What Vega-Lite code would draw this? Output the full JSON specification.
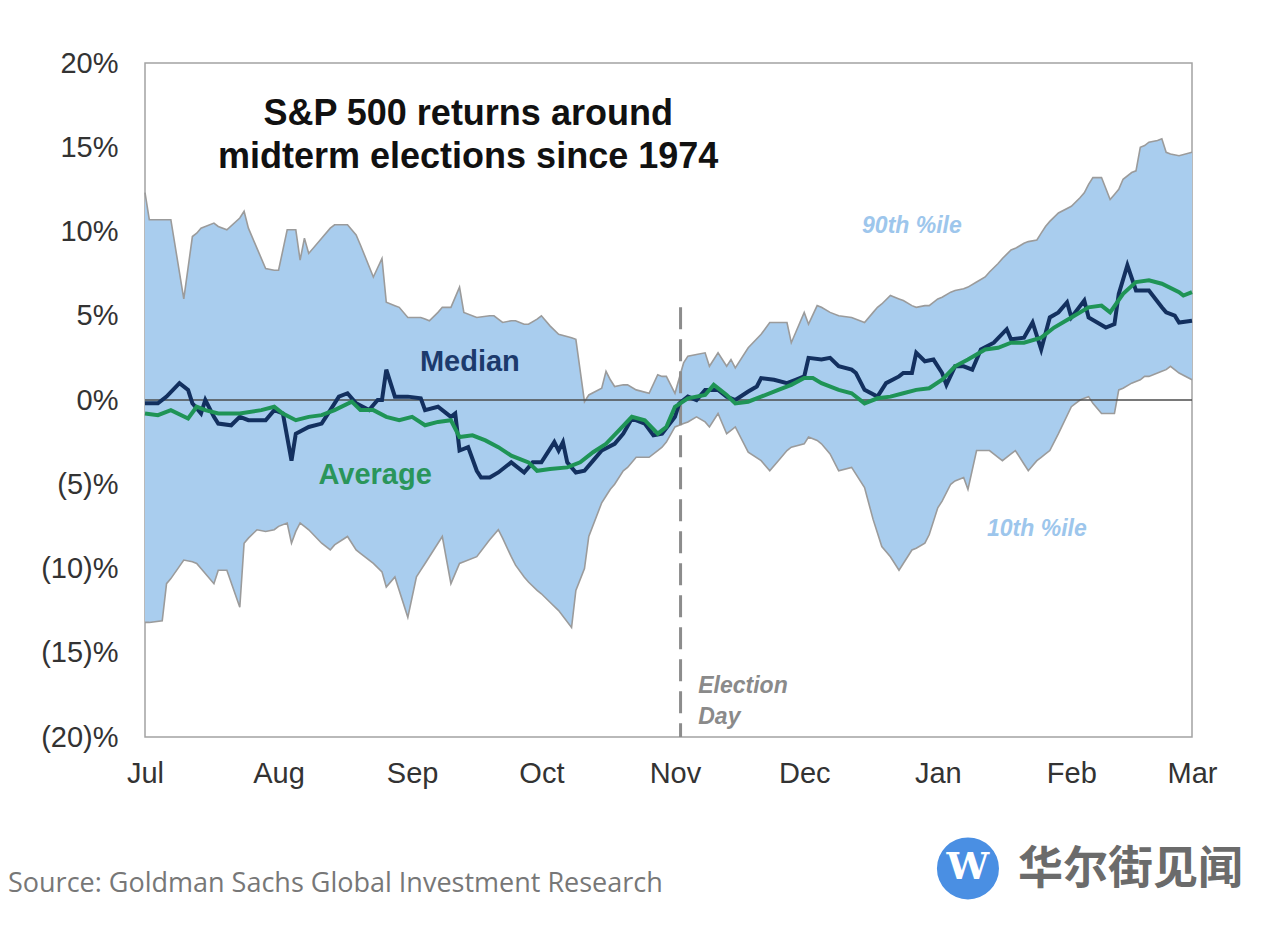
{
  "$schema": "https://vega.github.io/schema/vega-lite/v6.json",
  "description": "S&P 500 returns around midterm elections since 1974: 10th-90th percentile band, median and average path from July to March.",
  "autosize": {"type": "none"},
  "width": 1047,
  "height": 674,
  "padding": {"left": 145, "top": 63, "right": 88, "bottom": 204},
  "background": "white",
  "config": {
    "view": {"stroke": "#a3a3a3", "strokeWidth": 1.5},
    "font": "Liberation Sans"
  },
  "datasets": {
    "band": [
      {"d": 0, "hi": 12.3, "lo": -13.2}, {"d": 1, "hi": 10.7, "lo": -13.2}, {"d": 4, "hi": 10.7, "lo": -13.1},
      {"d": 5, "hi": 10.7, "lo": -10.9}, {"d": 6, "hi": 10.7, "lo": -10.6}, {"d": 9, "hi": 6.0, "lo": -9.5},
      {"d": 11, "hi": 9.7, "lo": -9.6}, {"d": 12, "hi": 9.9, "lo": -9.7}, {"d": 13, "hi": 10.2, "lo": -10.0},
      {"d": 16, "hi": 10.5, "lo": -10.9}, {"d": 17, "hi": 10.3, "lo": -10.1}, {"d": 19, "hi": 10.1, "lo": -10.1},
      {"d": 22, "hi": 10.8, "lo": -12.3}, {"d": 23, "hi": 11.2, "lo": -8.5}, {"d": 24, "hi": 10.2, "lo": -8.2},
      {"d": 26, "hi": 9.0, "lo": -7.7}, {"d": 28, "hi": 7.8, "lo": -7.8}, {"d": 30, "hi": 7.7, "lo": -7.7},
      {"d": 31, "hi": 7.7, "lo": -7.5}, {"d": 33, "hi": 10.1, "lo": -7.3}, {"d": 34, "hi": 10.1, "lo": -8.5},
      {"d": 35, "hi": 10.1, "lo": -7.8}, {"d": 36, "hi": 8.3, "lo": -7.3}, {"d": 37, "hi": 9.6, "lo": -7.5},
      {"d": 38, "hi": 8.7, "lo": -7.7}, {"d": 41, "hi": 9.6, "lo": -8.5}, {"d": 43, "hi": 10.2, "lo": -8.9},
      {"d": 44, "hi": 10.4, "lo": -8.6}, {"d": 47, "hi": 10.4, "lo": -8.1}, {"d": 49, "hi": 9.8, "lo": -8.9},
      {"d": 50, "hi": 9.2, "lo": -9.1}, {"d": 53, "hi": 7.3, "lo": -9.7}, {"d": 55, "hi": 8.4, "lo": -10.2},
      {"d": 56, "hi": 5.8, "lo": -11.1}, {"d": 58, "hi": 5.6, "lo": -10.5}, {"d": 59, "hi": 5.5, "lo": -11.3},
      {"d": 61, "hi": 4.9, "lo": -12.9}, {"d": 63, "hi": 4.9, "lo": -10.5}, {"d": 64, "hi": 4.9, "lo": -10.1},
      {"d": 65, "hi": 4.8, "lo": -9.7}, {"d": 66, "hi": 4.7, "lo": -9.3}, {"d": 68, "hi": 5.2, "lo": -8.5},
      {"d": 69, "hi": 5.5, "lo": -8.1}, {"d": 71, "hi": 5.5, "lo": -10.9}, {"d": 73, "hi": 6.7, "lo": -9.7},
      {"d": 74, "hi": 5.2, "lo": -9.6}, {"d": 77, "hi": 4.9, "lo": -9.3}, {"d": 80, "hi": 5.0, "lo": -8.3},
      {"d": 81, "hi": 5.0, "lo": -8.0}, {"d": 82, "hi": 4.8, "lo": -7.7}, {"d": 83, "hi": 4.6, "lo": -8.2},
      {"d": 85, "hi": 4.7, "lo": -9.3}, {"d": 86, "hi": 4.7, "lo": -9.8}, {"d": 88, "hi": 4.5, "lo": -10.5},
      {"d": 89, "hi": 4.5, "lo": -10.8}, {"d": 91, "hi": 4.8, "lo": -11.3}, {"d": 92, "hi": 5.0, "lo": -11.5},
      {"d": 94, "hi": 4.4, "lo": -12.0}, {"d": 96, "hi": 3.9, "lo": -12.5}, {"d": 99, "hi": 3.7, "lo": -13.5},
      {"d": 100, "hi": 3.6, "lo": -11.3}, {"d": 102, "hi": -0.1, "lo": -10.0}, {"d": 103, "hi": 0.3, "lo": -8.1},
      {"d": 106, "hi": 0.7, "lo": -6.1}, {"d": 107, "hi": 1.7, "lo": -5.7}, {"d": 108, "hi": 1.2, "lo": -5.3},
      {"d": 109, "hi": 0.8, "lo": -5.0}, {"d": 111, "hi": 0.9, "lo": -4.2}, {"d": 112, "hi": 0.9, "lo": -4.0},
      {"d": 114, "hi": 0.6, "lo": -3.4}, {"d": 117, "hi": 0.4, "lo": -3.4}, {"d": 119, "hi": 1.5, "lo": -3.0},
      {"d": 120, "hi": 1.4, "lo": -2.8}, {"d": 121, "hi": 1.4, "lo": -2.5}, {"d": 123, "hi": 0.4, "lo": -1.6},
      {"d": 125, "hi": 2.2, "lo": -1.4}, {"d": 126, "hi": 2.6, "lo": -1.3}, {"d": 128, "hi": 2.7, "lo": -1.0},
      {"d": 130, "hi": 2.8, "lo": -1.3}, {"d": 131, "hi": 2.0, "lo": -1.6}, {"d": 133, "hi": 2.8, "lo": -0.8},
      {"d": 135, "hi": 2.0, "lo": -2.0}, {"d": 136, "hi": 2.4, "lo": -1.8}, {"d": 137, "hi": 1.9, "lo": -1.6},
      {"d": 140, "hi": 3.1, "lo": -3.1}, {"d": 143, "hi": 3.9, "lo": -3.6}, {"d": 145, "hi": 4.6, "lo": -4.2},
      {"d": 147, "hi": 4.6, "lo": -3.6}, {"d": 149, "hi": 4.6, "lo": -3.0}, {"d": 150, "hi": 3.4, "lo": -2.8},
      {"d": 153, "hi": 5.2, "lo": -2.6}, {"d": 154, "hi": 4.5, "lo": -2.2}, {"d": 156, "hi": 5.6, "lo": -2.4},
      {"d": 157, "hi": 5.5, "lo": -2.6}, {"d": 159, "hi": 5.2, "lo": -3.2}, {"d": 161, "hi": 5.0, "lo": -4.2},
      {"d": 164, "hi": 4.9, "lo": -4.0}, {"d": 167, "hi": 4.6, "lo": -5.2}, {"d": 169, "hi": 5.2, "lo": -7.1},
      {"d": 170, "hi": 5.5, "lo": -7.9}, {"d": 171, "hi": 5.7, "lo": -8.7}, {"d": 173, "hi": 6.2, "lo": -9.3},
      {"d": 175, "hi": 6.0, "lo": -10.1}, {"d": 176, "hi": 5.9, "lo": -9.7}, {"d": 178, "hi": 5.6, "lo": -8.9},
      {"d": 179, "hi": 5.5, "lo": -8.8}, {"d": 181, "hi": 5.6, "lo": -8.5}, {"d": 182, "hi": 5.6, "lo": -8.0},
      {"d": 184, "hi": 6.0, "lo": -6.4}, {"d": 185, "hi": 6.1, "lo": -6.0}, {"d": 187, "hi": 6.4, "lo": -5.0},
      {"d": 188, "hi": 6.5, "lo": -4.8}, {"d": 190, "hi": 6.6, "lo": -4.6}, {"d": 191, "hi": 6.7, "lo": -5.3},
      {"d": 193, "hi": 7.0, "lo": -3.0}, {"d": 195, "hi": 7.3, "lo": -3.0}, {"d": 196, "hi": 7.6, "lo": -3.0},
      {"d": 198, "hi": 8.1, "lo": -3.4}, {"d": 199, "hi": 8.4, "lo": -3.6}, {"d": 201, "hi": 8.9, "lo": -3.2},
      {"d": 202, "hi": 9.0, "lo": -3.0}, {"d": 204, "hi": 9.3, "lo": -3.8}, {"d": 205, "hi": 9.4, "lo": -4.2},
      {"d": 207, "hi": 9.5, "lo": -3.6}, {"d": 208, "hi": 9.9, "lo": -3.4}, {"d": 209, "hi": 10.3, "lo": -3.2},
      {"d": 210, "hi": 10.6, "lo": -3.0}, {"d": 212, "hi": 11.1, "lo": -2.0}, {"d": 215, "hi": 11.5, "lo": -0.4},
      {"d": 217, "hi": 12.0, "lo": 0.0}, {"d": 218, "hi": 12.3, "lo": 0.1}, {"d": 219, "hi": 12.8, "lo": 0.2},
      {"d": 220, "hi": 13.2, "lo": -0.2}, {"d": 222, "hi": 13.2, "lo": -0.8}, {"d": 224, "hi": 11.9, "lo": -0.8},
      {"d": 225, "hi": 12.2, "lo": -0.8}, {"d": 226, "hi": 12.5, "lo": 0.6}, {"d": 227, "hi": 13.1, "lo": 0.7},
      {"d": 229, "hi": 13.5, "lo": 1.0}, {"d": 230, "hi": 13.6, "lo": 1.1}, {"d": 231, "hi": 15.0, "lo": 1.2},
      {"d": 232, "hi": 15.1, "lo": 1.4}, {"d": 233, "hi": 15.3, "lo": 1.4}, {"d": 235, "hi": 15.4, "lo": 1.6},
      {"d": 236, "hi": 15.5, "lo": 1.7}, {"d": 237, "hi": 14.7, "lo": 1.8}, {"d": 238, "hi": 14.6, "lo": 2.0},
      {"d": 240, "hi": 14.5, "lo": 1.6}, {"d": 243, "hi": 14.7, "lo": 1.2}
    ],
    "paths": [
      {"s": "Median", "d": 0, "v": -0.2}, {"s": "Median", "d": 3, "v": -0.2}, {"s": "Median", "d": 5, "v": 0.2},
      {"s": "Median", "d": 8, "v": 1.0}, {"s": "Median", "d": 10, "v": 0.6}, {"s": "Median", "d": 11, "v": -0.2},
      {"s": "Median", "d": 13, "v": -0.8}, {"s": "Median", "d": 14, "v": 0.0}, {"s": "Median", "d": 16, "v": -1.0},
      {"s": "Median", "d": 17, "v": -1.4}, {"s": "Median", "d": 20, "v": -1.5}, {"s": "Median", "d": 22, "v": -1.0},
      {"s": "Median", "d": 24, "v": -1.2}, {"s": "Median", "d": 28, "v": -1.2}, {"s": "Median", "d": 30, "v": -0.6},
      {"s": "Median", "d": 32, "v": -0.8}, {"s": "Median", "d": 34, "v": -3.6}, {"s": "Median", "d": 35, "v": -2.0},
      {"s": "Median", "d": 38, "v": -1.6}, {"s": "Median", "d": 41, "v": -1.4}, {"s": "Median", "d": 42, "v": -1.0},
      {"s": "Median", "d": 45, "v": 0.2}, {"s": "Median", "d": 47, "v": 0.4}, {"s": "Median", "d": 49, "v": -0.2},
      {"s": "Median", "d": 52, "v": -0.6}, {"s": "Median", "d": 54, "v": 0.0}, {"s": "Median", "d": 55, "v": 0.0},
      {"s": "Median", "d": 56, "v": 1.8}, {"s": "Median", "d": 58, "v": 0.2}, {"s": "Median", "d": 61, "v": 0.2},
      {"s": "Median", "d": 64, "v": 0.1}, {"s": "Median", "d": 65, "v": -0.6}, {"s": "Median", "d": 68, "v": -0.4},
      {"s": "Median", "d": 71, "v": -1.0}, {"s": "Median", "d": 72, "v": -0.8}, {"s": "Median", "d": 73, "v": -3.0},
      {"s": "Median", "d": 75, "v": -2.8}, {"s": "Median", "d": 77, "v": -4.2}, {"s": "Median", "d": 78, "v": -4.6},
      {"s": "Median", "d": 80, "v": -4.6}, {"s": "Median", "d": 82, "v": -4.3}, {"s": "Median", "d": 85, "v": -3.7},
      {"s": "Median", "d": 88, "v": -4.3}, {"s": "Median", "d": 90, "v": -3.7}, {"s": "Median", "d": 92, "v": -3.7},
      {"s": "Median", "d": 95, "v": -2.5}, {"s": "Median", "d": 96, "v": -3.0}, {"s": "Median", "d": 97, "v": -2.5},
      {"s": "Median", "d": 98, "v": -3.7}, {"s": "Median", "d": 100, "v": -4.3}, {"s": "Median", "d": 102, "v": -4.2},
      {"s": "Median", "d": 104, "v": -3.6}, {"s": "Median", "d": 106, "v": -3.0}, {"s": "Median", "d": 109, "v": -2.6},
      {"s": "Median", "d": 111, "v": -2.0}, {"s": "Median", "d": 113, "v": -1.1}, {"s": "Median", "d": 116, "v": -1.4},
      {"s": "Median", "d": 118, "v": -2.1}, {"s": "Median", "d": 120, "v": -2.0}, {"s": "Median", "d": 123, "v": -1.0},
      {"s": "Median", "d": 124, "v": -0.2}, {"s": "Median", "d": 126, "v": 0.2}, {"s": "Median", "d": 128, "v": 0.0},
      {"s": "Median", "d": 130, "v": 0.6}, {"s": "Median", "d": 133, "v": 0.6}, {"s": "Median", "d": 135, "v": 0.2},
      {"s": "Median", "d": 137, "v": 0.0}, {"s": "Median", "d": 140, "v": 0.5}, {"s": "Median", "d": 142, "v": 0.8},
      {"s": "Median", "d": 143, "v": 1.3}, {"s": "Median", "d": 146, "v": 1.2}, {"s": "Median", "d": 149, "v": 1.0},
      {"s": "Median", "d": 151, "v": 1.2}, {"s": "Median", "d": 153, "v": 1.4}, {"s": "Median", "d": 154, "v": 2.5},
      {"s": "Median", "d": 157, "v": 2.4}, {"s": "Median", "d": 159, "v": 2.5}, {"s": "Median", "d": 161, "v": 2.0},
      {"s": "Median", "d": 164, "v": 1.8}, {"s": "Median", "d": 165, "v": 1.6}, {"s": "Median", "d": 167, "v": 0.6},
      {"s": "Median", "d": 170, "v": 0.2}, {"s": "Median", "d": 172, "v": 1.0}, {"s": "Median", "d": 175, "v": 1.4},
      {"s": "Median", "d": 176, "v": 1.6}, {"s": "Median", "d": 178, "v": 1.6}, {"s": "Median", "d": 179, "v": 2.8},
      {"s": "Median", "d": 181, "v": 2.3}, {"s": "Median", "d": 183, "v": 2.4}, {"s": "Median", "d": 185, "v": 1.6},
      {"s": "Median", "d": 186, "v": 0.9}, {"s": "Median", "d": 188, "v": 2.0}, {"s": "Median", "d": 190, "v": 2.0},
      {"s": "Median", "d": 192, "v": 1.8}, {"s": "Median", "d": 194, "v": 3.0}, {"s": "Median", "d": 197, "v": 3.4},
      {"s": "Median", "d": 200, "v": 4.2}, {"s": "Median", "d": 201, "v": 3.6}, {"s": "Median", "d": 204, "v": 3.7},
      {"s": "Median", "d": 206, "v": 4.6}, {"s": "Median", "d": 208, "v": 3.0}, {"s": "Median", "d": 210, "v": 4.9},
      {"s": "Median", "d": 212, "v": 5.2}, {"s": "Median", "d": 214, "v": 5.8}, {"s": "Median", "d": 215, "v": 4.9},
      {"s": "Median", "d": 218, "v": 5.9}, {"s": "Median", "d": 219, "v": 4.9}, {"s": "Median", "d": 223, "v": 4.3},
      {"s": "Median", "d": 225, "v": 4.5}, {"s": "Median", "d": 226, "v": 6.3}, {"s": "Median", "d": 228, "v": 8.0},
      {"s": "Median", "d": 230, "v": 6.5}, {"s": "Median", "d": 233, "v": 6.5}, {"s": "Median", "d": 236, "v": 5.5},
      {"s": "Median", "d": 237, "v": 5.2}, {"s": "Median", "d": 239, "v": 5.0}, {"s": "Median", "d": 240, "v": 4.6},
      {"s": "Median", "d": 243, "v": 4.7},
      {"s": "Average", "d": 0, "v": -0.8}, {"s": "Average", "d": 3, "v": -0.9}, {"s": "Average", "d": 6, "v": -0.6},
      {"s": "Average", "d": 10, "v": -1.1}, {"s": "Average", "d": 12, "v": -0.4}, {"s": "Average", "d": 14, "v": -0.6},
      {"s": "Average", "d": 17, "v": -0.8}, {"s": "Average", "d": 22, "v": -0.8}, {"s": "Average", "d": 27, "v": -0.6},
      {"s": "Average", "d": 30, "v": -0.4}, {"s": "Average", "d": 32, "v": -0.8}, {"s": "Average", "d": 35, "v": -1.2},
      {"s": "Average", "d": 38, "v": -1.0}, {"s": "Average", "d": 41, "v": -0.9}, {"s": "Average", "d": 44, "v": -0.6},
      {"s": "Average", "d": 48, "v": -0.1}, {"s": "Average", "d": 50, "v": -0.6}, {"s": "Average", "d": 53, "v": -0.6},
      {"s": "Average", "d": 56, "v": -1.0}, {"s": "Average", "d": 59, "v": -1.2}, {"s": "Average", "d": 62, "v": -1.0},
      {"s": "Average", "d": 65, "v": -1.5}, {"s": "Average", "d": 68, "v": -1.3}, {"s": "Average", "d": 71, "v": -1.2},
      {"s": "Average", "d": 73, "v": -2.2}, {"s": "Average", "d": 76, "v": -2.1}, {"s": "Average", "d": 79, "v": -2.4},
      {"s": "Average", "d": 82, "v": -2.8}, {"s": "Average", "d": 85, "v": -3.3}, {"s": "Average", "d": 89, "v": -3.7},
      {"s": "Average", "d": 91, "v": -4.2}, {"s": "Average", "d": 94, "v": -4.1}, {"s": "Average", "d": 98, "v": -4.0},
      {"s": "Average", "d": 101, "v": -3.7}, {"s": "Average", "d": 104, "v": -3.1}, {"s": "Average", "d": 107, "v": -2.6},
      {"s": "Average", "d": 110, "v": -1.8}, {"s": "Average", "d": 113, "v": -1.0}, {"s": "Average", "d": 116, "v": -1.2},
      {"s": "Average", "d": 119, "v": -2.0}, {"s": "Average", "d": 121, "v": -1.6}, {"s": "Average", "d": 123, "v": -0.4},
      {"s": "Average", "d": 126, "v": 0.1}, {"s": "Average", "d": 130, "v": 0.3}, {"s": "Average", "d": 132, "v": 0.9},
      {"s": "Average", "d": 135, "v": 0.3}, {"s": "Average", "d": 137, "v": -0.2}, {"s": "Average", "d": 140, "v": -0.1},
      {"s": "Average", "d": 143, "v": 0.2}, {"s": "Average", "d": 147, "v": 0.6}, {"s": "Average", "d": 150, "v": 0.9},
      {"s": "Average", "d": 153, "v": 1.3}, {"s": "Average", "d": 155, "v": 1.3}, {"s": "Average", "d": 157, "v": 1.0},
      {"s": "Average", "d": 161, "v": 0.6}, {"s": "Average", "d": 164, "v": 0.4}, {"s": "Average", "d": 167, "v": -0.2},
      {"s": "Average", "d": 170, "v": 0.1}, {"s": "Average", "d": 173, "v": 0.2}, {"s": "Average", "d": 176, "v": 0.4},
      {"s": "Average", "d": 179, "v": 0.6}, {"s": "Average", "d": 182, "v": 0.7}, {"s": "Average", "d": 185, "v": 1.2},
      {"s": "Average", "d": 188, "v": 2.0}, {"s": "Average", "d": 191, "v": 2.4}, {"s": "Average", "d": 195, "v": 3.0},
      {"s": "Average", "d": 198, "v": 3.1}, {"s": "Average", "d": 201, "v": 3.4}, {"s": "Average", "d": 204, "v": 3.4},
      {"s": "Average", "d": 208, "v": 3.7}, {"s": "Average", "d": 211, "v": 4.3}, {"s": "Average", "d": 215, "v": 4.9},
      {"s": "Average", "d": 219, "v": 5.5}, {"s": "Average", "d": 222, "v": 5.6}, {"s": "Average", "d": 224, "v": 5.2},
      {"s": "Average", "d": 227, "v": 6.3}, {"s": "Average", "d": 230, "v": 7.0}, {"s": "Average", "d": 233, "v": 7.1},
      {"s": "Average", "d": 236, "v": 6.9}, {"s": "Average", "d": 240, "v": 6.4}, {"s": "Average", "d": 241, "v": 6.2},
      {"s": "Average", "d": 243, "v": 6.4}
    ],
    "zero": [{"v": 0}],
    "election": [{"d": 124.3, "top": 5.5, "bottom": -20}],
    "notes": [
      {"k": "title", "d": 75, "v": 16.3, "t": "S&P 500 returns around"},
      {"k": "title", "d": 75, "v": 13.75, "t": "midterm elections since 1974"},
      {"k": "median", "d": 75.4, "v": 1.7, "t": "Median"},
      {"k": "average", "d": 53.4, "v": -5.0, "t": "Average"},
      {"k": "pct", "d": 178, "v": 9.9, "t": "90th %ile"},
      {"k": "pct", "d": 207, "v": -8.1, "t": "10th %ile"},
      {"k": "election", "d": 128.4, "v": -17.4, "t": "Election"},
      {"k": "election", "d": 128.4, "v": -19.2, "t": "Day"},
      {"k": "source", "d": -31.8, "v": -29.2, "t": "Source: Goldman Sachs Global Investment Research"},
      {"k": "brand", "d": 202.6, "v": -27.9, "t": "华尔街见闻"},
      {"k": "logo", "d": 191, "v": -27.8, "t": "W"}
    ]
  },
  "layer": [
    {
      "data": {"name": "band"},
      "mark": {"type": "area", "color": "#a9cdee", "opacity": 1},
      "encoding": {
        "x": {
          "field": "d", "type": "quantitative", "title": null,
          "scale": {"domain": [0, 243], "nice": false, "zero": false},
          "axis": {
            "title": null, "values": [0, 31, 62, 92, 123, 153, 184, 215, 243],
            "labelExpr": "['Jul','Aug','Sep','Oct','Nov','Dec','Jan','Feb','Mar'][indexof([0,31,62,92,123,153,184,215,243], datum.value)]",
            "domain": false, "ticks": false, "tickSize": 0, "grid": false,
            "labelFont": "Liberation Sans", "labelFontSize": 29, "labelColor": "#333333",
            "labelPadding": 22, "labelFlush": false, "labelOverlap": false
          }
        },
        "y": {
          "field": "lo", "type": "quantitative", "title": null,
          "scale": {"domain": [-20, 20], "nice": false, "zero": false},
          "axis": {
            "title": null, "values": [-20, -15, -10, -5, 0, 5, 10, 15, 20],
            "labelExpr": "datum.value < 0 ? '(' + (-datum.value) + ')%' : datum.value + '%'",
            "domain": false, "ticks": false, "tickSize": 0, "grid": false,
            "labelFont": "Liberation Sans", "labelFontSize": 29, "labelColor": "#333333",
            "labelPadding": 27
          }
        },
        "y2": {"field": "hi"}
      }
    },
    {
      "data": {"name": "band"},
      "mark": {"type": "line", "color": "#9b9b9b", "strokeWidth": 1.6},
      "encoding": {
        "x": {"field": "d", "type": "quantitative", "title": null},
        "y": {"field": "hi", "type": "quantitative", "title": null}
      }
    },
    {
      "data": {"name": "band"},
      "mark": {"type": "line", "color": "#9b9b9b", "strokeWidth": 1.6},
      "encoding": {
        "x": {"field": "d", "type": "quantitative", "title": null},
        "y": {"field": "lo", "type": "quantitative", "title": null}
      }
    },
    {
      "data": {"name": "zero"},
      "mark": {"type": "rule", "color": "#4d4d4d", "strokeWidth": 1.3},
      "encoding": {"y": {"field": "v", "type": "quantitative", "title": null}}
    },
    {
      "data": {"name": "election"},
      "mark": {"type": "rule", "color": "#8c8c8c", "strokeWidth": 3, "strokeDash": [22, 10]},
      "encoding": {
        "x": {"field": "d", "type": "quantitative", "title": null},
        "y": {"field": "top", "type": "quantitative", "title": null},
        "y2": {"field": "bottom"}
      }
    },
    {
      "data": {"name": "paths"},
      "transform": [{"filter": "datum.s === 'Median'"}],
      "mark": {"type": "line", "color": "#13305f", "strokeWidth": 4},
      "encoding": {
        "x": {"field": "d", "type": "quantitative", "title": null},
        "y": {"field": "v", "type": "quantitative", "title": null}
      }
    },
    {
      "data": {"name": "paths"},
      "transform": [{"filter": "datum.s === 'Average'"}],
      "mark": {"type": "line", "color": "#1f9456", "strokeWidth": 4},
      "encoding": {
        "x": {"field": "d", "type": "quantitative", "title": null},
        "y": {"field": "v", "type": "quantitative", "title": null}
      }
    },
    {
      "data": {"name": "notes"},
      "transform": [{"filter": "datum.k === 'title'"}],
      "mark": {"type": "text", "align": "center", "baseline": "alphabetic", "font": "Liberation Sans", "fontSize": 36, "fontWeight": "bold", "color": "#111111"},
      "encoding": {
        "x": {"field": "d", "type": "quantitative", "title": null},
        "y": {"field": "v", "type": "quantitative", "title": null},
        "text": {"field": "t"}
      }
    },
    {
      "data": {"name": "notes"},
      "transform": [{"filter": "datum.k === 'median'"}],
      "mark": {"type": "text", "align": "center", "baseline": "alphabetic", "font": "Liberation Sans", "fontSize": 29, "fontWeight": "bold", "color": "#1c3a6c"},
      "encoding": {
        "x": {"field": "d", "type": "quantitative", "title": null},
        "y": {"field": "v", "type": "quantitative", "title": null},
        "text": {"field": "t"}
      }
    },
    {
      "data": {"name": "notes"},
      "transform": [{"filter": "datum.k === 'average'"}],
      "mark": {"type": "text", "align": "center", "baseline": "alphabetic", "font": "Liberation Sans", "fontSize": 29, "fontWeight": "bold", "color": "#2a955a"},
      "encoding": {
        "x": {"field": "d", "type": "quantitative", "title": null},
        "y": {"field": "v", "type": "quantitative", "title": null},
        "text": {"field": "t"}
      }
    },
    {
      "data": {"name": "notes"},
      "transform": [{"filter": "datum.k === 'pct'"}],
      "mark": {"type": "text", "align": "center", "baseline": "alphabetic", "font": "Liberation Sans", "fontSize": 23, "fontWeight": "bold", "fontStyle": "italic", "color": "#9dc6ec"},
      "encoding": {
        "x": {"field": "d", "type": "quantitative", "title": null},
        "y": {"field": "v", "type": "quantitative", "title": null},
        "text": {"field": "t"}
      }
    },
    {
      "data": {"name": "notes"},
      "transform": [{"filter": "datum.k === 'election'"}],
      "mark": {"type": "text", "align": "left", "baseline": "alphabetic", "font": "Liberation Sans", "fontSize": 23, "fontWeight": "bold", "fontStyle": "italic", "color": "#8a8a8a"},
      "encoding": {
        "x": {"field": "d", "type": "quantitative", "title": null},
        "y": {"field": "v", "type": "quantitative", "title": null},
        "text": {"field": "t"}
      }
    },
    {
      "data": {"name": "notes"},
      "transform": [{"filter": "datum.k === 'source'"}],
      "mark": {"type": "text", "align": "left", "baseline": "alphabetic", "font": "Open Sans", "fontSize": 27, "color": "#777777"},
      "encoding": {
        "x": {"field": "d", "type": "quantitative", "title": null},
        "y": {"field": "v", "type": "quantitative", "title": null},
        "text": {"field": "t"}
      }
    },
    {
      "data": {"name": "notes"},
      "transform": [{"filter": "datum.k === 'logo'"}],
      "mark": {"type": "point", "shape": "circle", "filled": true, "size": 3850, "color": "#4a8fe3", "opacity": 1},
      "encoding": {
        "x": {"field": "d", "type": "quantitative", "title": null},
        "y": {"field": "v", "type": "quantitative", "title": null}
      }
    },
    {
      "data": {"name": "notes"},
      "transform": [{"filter": "datum.k === 'logo'"}],
      "mark": {"type": "text", "align": "center", "baseline": "middle", "font": "DejaVu Serif", "fontSize": 38, "fontWeight": "bold", "color": "white"},
      "encoding": {
        "x": {"field": "d", "type": "quantitative", "title": null},
        "y": {"field": "v", "type": "quantitative", "title": null},
        "text": {"field": "t"}
      }
    },
    {
      "data": {"name": "notes"},
      "transform": [{"filter": "datum.k === 'brand'"}],
      "mark": {"type": "text", "align": "left", "baseline": "middle", "font": "Noto Sans CJK SC", "fontSize": 45, "fontWeight": "bold", "color": "#6b6b6b"},
      "encoding": {
        "x": {"field": "d", "type": "quantitative", "title": null},
        "y": {"field": "v", "type": "quantitative", "title": null},
        "text": {"field": "t"}
      }
    }
  ]
}
